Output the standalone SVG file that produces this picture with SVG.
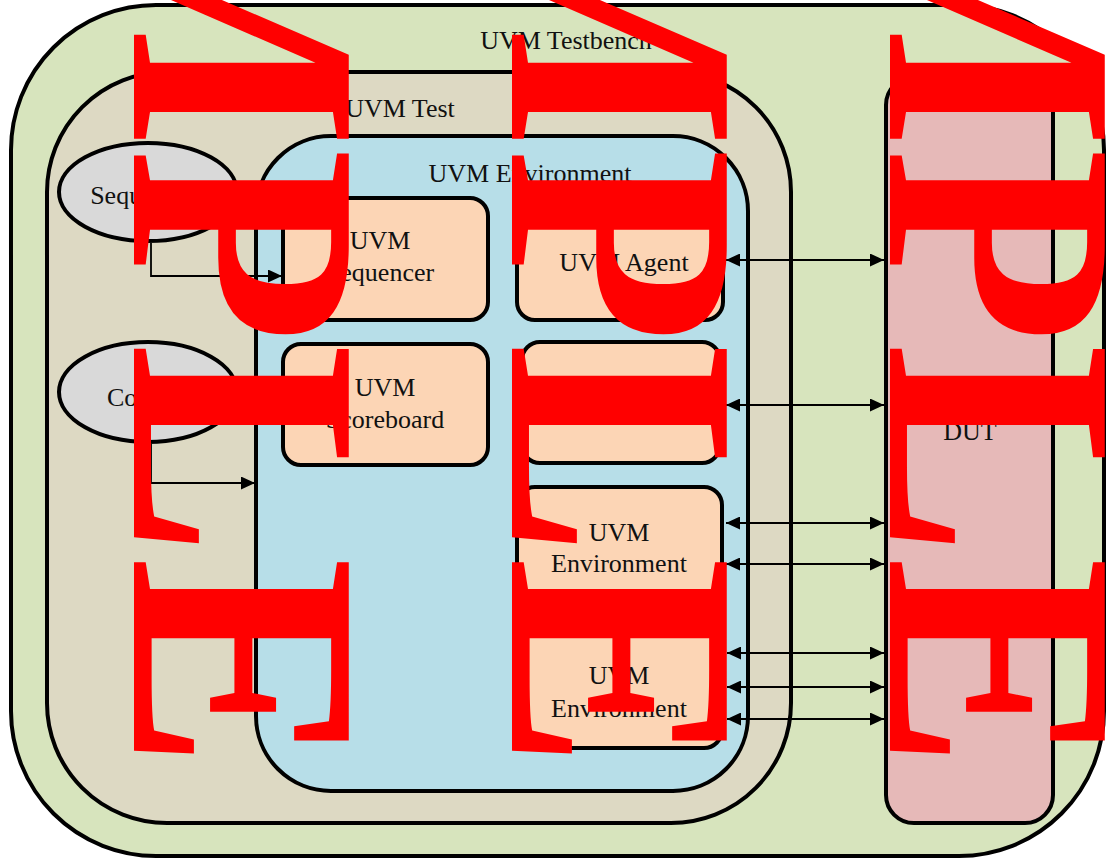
<svg xmlns="http://www.w3.org/2000/svg" width="1106" height="859" viewBox="0 0 1106 859">
  <defs>
    <marker id="arrow" markerUnits="userSpaceOnUse" markerWidth="14" markerHeight="13" refX="14" refY="6.5" orient="auto-start-reverse">
      <path d="M0,0 L14,6.5 L0,13 z" fill="#000"/>
    </marker>
    <style>
      .frame { stroke: #000; stroke-width: 4; }
      .lbl { font-family: "Liberation Serif", "Times New Roman", serif; font-size: 26px; fill: #111; text-anchor: middle; }
      .bus { fill: none; stroke: #000; stroke-width: 1.8; marker-start: url(#arrow); marker-end: url(#arrow); }
      .elbow { fill: none; stroke: #000; stroke-width: 1.8; marker-end: url(#arrow); }
      .block { fill: #FCD5B5; stroke: #000; stroke-width: 4; }
      .cfg { fill: #D9D9D9; stroke: #000; stroke-width: 4; }
      .mark { font-family: "Liberation Serif", "Times New Roman", serif; font-weight: bold; font-size: 328px; fill: #FF0000; text-anchor: end; }
    </style>
  </defs>

  <!-- testbench container -->
  <g id="testbench">
    <rect x="11" y="5" width="1093" height="851" rx="145" ry="145" fill="#D7E4BD" class="frame"/>
    <text class="lbl" x="566" y="49">UVM Testbench</text>
  </g>

  <!-- test container -->
  <g id="test">
    <rect x="47" y="72" width="744" height="751" rx="120" ry="120" fill="#DDD9C3" class="frame"/>
    <text class="lbl" x="400" y="117">UVM Test</text>
  </g>

  <g id="sequences">
    <ellipse cx="148" cy="192" rx="89" ry="49" class="cfg"/>
    <text class="lbl" x="145" y="204">Sequences</text>
  </g>

  <g id="config">
    <ellipse cx="148" cy="392" rx="89" ry="50" class="cfg"/>
    <text class="lbl" x="143" y="406">Config</text>
  </g>

  <!-- environment container -->
  <g id="environment">
    <rect x="256" y="136" width="492" height="655" rx="75" ry="75" fill="#B7DEE8" class="frame"/>
    <text class="lbl" x="530" y="182">UVM Environment</text>
  </g>

  <g id="sequencer">
    <rect x="283" y="198" width="205" height="122" rx="18" ry="18" class="block"/>
    <text class="lbl" x="380" y="249">UVM</text>
    <text class="lbl" x="380" y="281">Sequencer</text>
  </g>

  <g id="agent">
    <rect x="517" y="198" width="206" height="122" rx="18" ry="18" class="block"/>
    <text class="lbl" x="624" y="271">UVM Agent</text>
  </g>

  <g id="scoreboard">
    <rect x="283" y="344" width="205" height="121" rx="18" ry="18" class="block"/>
    <text class="lbl" x="385" y="396">UVM</text>
    <text class="lbl" x="385" y="428">Scoreboard</text>
  </g>

  <g id="agent2">
    <rect x="522" y="342" width="198" height="121" rx="18" ry="18" class="block"/>
  </g>

  <g id="subenv1">
    <rect x="517" y="487" width="205" height="120" rx="18" ry="18" class="block"/>
    <text class="lbl" x="619" y="541">UVM</text>
    <text class="lbl" x="619" y="572">Environment</text>
  </g>

  <g id="subenv2">
    <rect x="517" y="629" width="205" height="119" rx="18" ry="18" class="block"/>
    <text class="lbl" x="619" y="684">UVM</text>
    <text class="lbl" x="619" y="717">Environment</text>
  </g>

  <g id="dut">
    <rect x="886" y="77" width="167" height="746" rx="28" ry="28" fill="#E6B9B8" class="frame"/>
    <text class="lbl" x="970" y="440">DUT</text>
  </g>

  <!-- connectors -->
  <g id="connectors">
    <path class="elbow" d="M151,243 V276 H282"/>
    <path class="elbow" d="M151,444 V483 H255"/>
    <line class="bus" x1="726" y1="260" x2="884" y2="260"/>
    <line class="bus" x1="726" y1="405" x2="884" y2="405"/>
    <line class="bus" x1="726" y1="523" x2="884" y2="523"/>
    <line class="bus" x1="726" y1="564" x2="884" y2="564"/>
    <line class="bus" x1="727" y1="653" x2="884" y2="653"/>
    <line class="bus" x1="727" y1="687" x2="884" y2="687"/>
    <line class="bus" x1="727" y1="719" x2="884" y2="719"/>
  </g>

  <!-- overprinted stamp, set vertically -->
  <g id="stamp">
    <text class="mark" transform="translate(134,770) rotate(90) scale(0.975,1)">SAMPLE</text>
    <text class="mark" transform="translate(512,770) rotate(90) scale(0.975,1)">SAMPLE</text>
    <text class="mark" transform="translate(890,770) rotate(90) scale(0.975,1)">SAMPLE</text>
  </g>
</svg>
